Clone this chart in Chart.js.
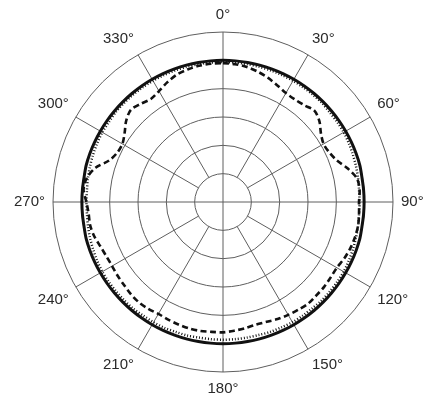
<!DOCTYPE html>
<html>
<head>
<meta charset="utf-8">
<script src="https://cdn.jsdelivr.net/npm/chart.js@4/dist/chart.umd.min.js"></script>
<style>
  html, body { margin: 0; padding: 0; background: #fff; }
  #wrap { width: 442px; height: 401px; }
</style>
</head>
<body>
<div id="wrap"><canvas id="polar" width="442" height="401"></canvas></div>
<script>
// angle of each sample, degrees clockwise from the top
const angles = [
  0, 5, 10, 15, 20, 25, 30, 35, 40, 45, 50, 55,
  60, 65, 70, 75, 80, 85, 90, 95, 100, 105, 110, 115,
  120, 125, 130, 135, 140, 145, 150, 155, 160, 165, 170, 175,
  180, 185, 190, 195, 200, 205, 210, 215, 220, 225, 230, 235,
  240, 245, 250, 255, 260, 265, 270, 275, 280, 285, 290, 295,
  300, 305, 310, 315, 320, 325, 330, 335, 340, 345, 350, 355
];

// level in dB
const solidLevels = [
  0, 0, 0, 0, 0, 0, 0, 0, 0, 0, 0, 0,
  0, 0, 0, 0, -0.1, -0.1, -0.1, -0.1, -0.1, 0, 0, 0,
  0, 0, 0, 0, 0, 0, 0, 0, 0, 0, 0, 0,
  0, 0, 0, 0, 0, 0, 0, 0, 0, 0, 0, 0,
  0, 0, 0, 0, -0.1, -0.1, -0.1, -0.1, -0.1, 0, 0, 0,
  0, 0, 0, 0, 0, 0, 0, 0, 0, 0, 0, 0
];

const dottedLevels = [
  -0.3, -0.3, -0.3, -0.3, -0.3, -0.3, -0.3, -0.3, -0.3, -0.3, -0.4, -0.4,
  -0.4, -0.5, -0.6, -0.7, -0.8, -0.9, -0.9, -0.9, -0.8, -0.7, -0.6, -0.5,
  -0.4, -0.4, -0.4, -0.4, -0.5, -0.5, -0.5, -0.6, -0.6, -0.7, -0.7, -0.7,
  -0.7, -0.7, -0.7, -0.6, -0.6, -0.5, -0.5, -0.5, -0.4, -0.4, -0.4, -0.4,
  -0.4, -0.5, -0.6, -0.7, -0.8, -0.9, -0.9, -0.9, -0.8, -0.7, -0.6, -0.5,
  -0.4, -0.4, -0.3, -0.3, -0.3, -0.3, -0.3, -0.3, -0.3, -0.3, -0.3, -0.3
];

const dashedLevels = [
  -0.5, -0.6, -0.8, -1.2, -1.7, -2.3, -2.8, -2.9, -2.7, -2.2, -2.8, -3.9,
  -4.5, -4.3, -3.6, -2.2, -1.0, -0.8, -1.0, -0.9, -0.8, -0.9, -1.1, -1.4,
  -1.8, -1.8, -1.7, -1.7, -1.6, -1.8, -2.0, -2.2, -2.5, -2.6, -2.4, -2.2,
  -2.0, -2.0, -1.9, -1.9, -2.0, -2.1, -2.2, -2.0, -1.9, -2.0, -2.2, -2.3,
  -2.4, -2.3, -2.0, -1.5, -1.2, -1.2, -0.9, -0.3, -0.6, -1.7, -3.6, -4.4,
  -4.5, -3.8, -2.7, -2.0, -2.4, -2.8, -2.4, -1.7, -1.1, -0.8, -0.6, -0.5
];

const gridColor = '#5e5e5e';

// spokes every 30 deg that stop at the innermost ring (the 0/90/180/270 ones run to the centre)
const spokes = {
  id: 'spokes',
  beforeDatasetsDraw(chart) {
    const scale = chart.scales.r;
    const ctx = chart.ctx;
    const inner = scale.getDistanceFromCenterForValue(-20);
    const outer = scale.getDistanceFromCenterForValue(5);
    ctx.save();
    ctx.strokeStyle = gridColor;
    ctx.lineWidth = 1;
    angles.forEach((a, i) => {
      if (a % 30 !== 0 || a % 90 === 0) return;
      const p1 = scale.getPointPosition(i, inner);
      const p2 = scale.getPointPosition(i, outer);
      ctx.beginPath();
      ctx.moveTo(p1.x, p1.y);
      ctx.lineTo(p2.x, p2.y);
      ctx.stroke();
    });
    ctx.restore();
  }
};

const line = (data, width, dash) => ({
  data: data,
  borderColor: '#111',
  borderWidth: width,
  borderDash: dash,
  backgroundColor: 'transparent',
  fill: false,
  pointRadius: 0,
  tension: 0.3
});

new Chart(document.getElementById('polar'), {
  type: 'radar',
  data: {
    labels: angles,
    datasets: [
      line(solidLevels, 3, []),
      line(dottedLevels, 2.5, [1, 2]),
      line(dashedLevels, 2.6, [6, 3.5])
    ]
  },
  options: {
    responsive: false,
    animation: false,
    layout: { padding: { top: 6, bottom: 3, left: 0, right: 4 } },
    plugins: { legend: { display: false }, tooltip: { enabled: false } },
    scales: {
      r: {
        min: -25,
        max: 5,
        ticks: { display: false, stepSize: 5 },
        grid: { circular: true, color: gridColor, lineWidth: 1 },
        angleLines: {
          color: ctx => angles[ctx.index] % 90 === 0 ? gridColor : 'transparent',
          lineWidth: ctx => angles[ctx.index] % 90 === 0 ? 1 : 0
        },
        pointLabels: {
          callback: v => v % 30 === 0 ? v + '°' : [],
          color: '#2a2a2a',
          padding: 8,
          font: { family: '"Liberation Sans", Arial, sans-serif', size: 15 }
        }
      }
    }
  },
  plugins: [spokes]
});
</script>
</body>
</html>
